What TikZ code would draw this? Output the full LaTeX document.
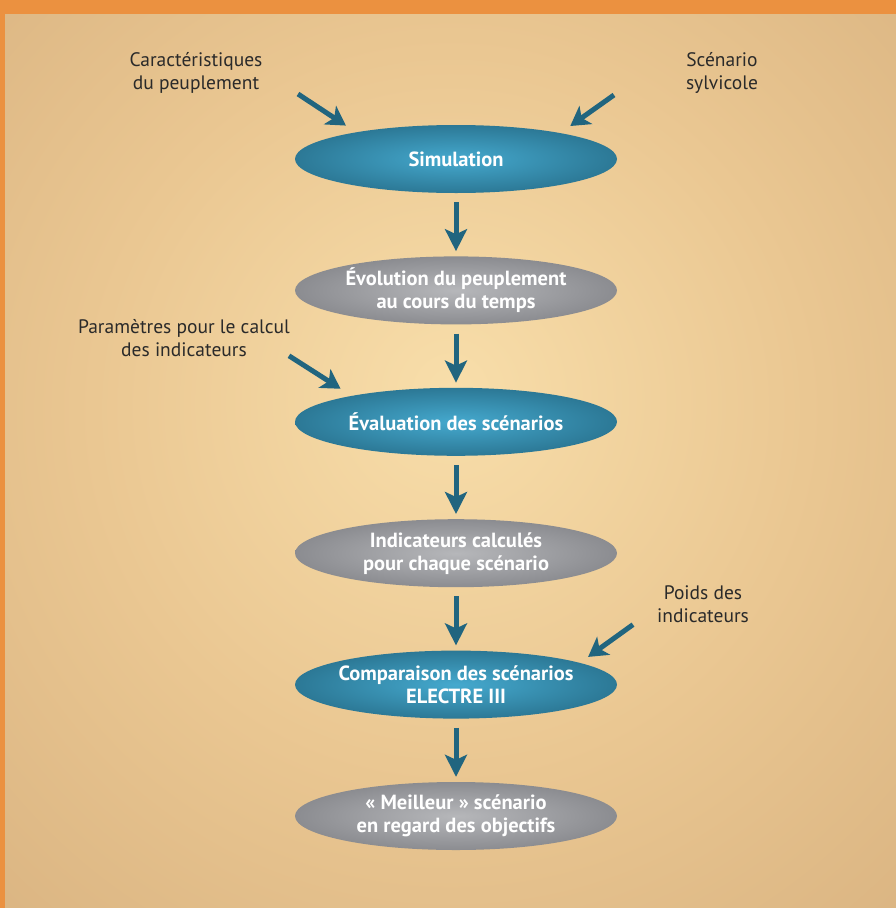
\documentclass[tikz,border=0pt]{standalone}
\usepackage{fontspec}
\setmainfont{PT Sans}
\definecolor{frameorange}{HTML}{EB9140}
\definecolor{bgin}{HTML}{F8DEAA}
\definecolor{bgmid}{HTML}{EAC792}
\definecolor{bgedge}{HTML}{D0A877}
\definecolor{bgout}{HTML}{C39768}
\definecolor{simin}{HTML}{45A9CE}
\definecolor{simout}{HTML}{21637D}
\definecolor{resin}{HTML}{B6B7BA}
\definecolor{resout}{HTML}{75767B}
\definecolor{arrowblue}{HTML}{21657F}
\definecolor{labink}{HTML}{2A2A2A}
\usetikzlibrary{positioning, arrows.meta, shapes.geometric}
\pgfdeclareradialshading{bgglow}{\pgfpoint{0bp}{4bp}}{color(0bp)=(bgin); color(20bp)=(bgmid); color(50bp)=(bgedge); color(71bp)=(bgout)}
\pgfdeclareradialshading{simglow}{\pgfpointorigin}{color(0bp)=(simin); color(36bp)=(simout); color(50bp)=(simout)}
\pgfdeclareradialshading{resglow}{\pgfpointorigin}{color(0bp)=(resin); color(38bp)=(resout); color(50bp)=(resout)}

\begin{document}
\begin{tikzpicture}[x=1pt, y=1pt, node distance=63pt,
    every node/.style={font=\fontsize{19.5}{23}\selectfont, text=labink, align=center},
    actell/.style={ellipse, shading=simglow, minimum width=322pt, minimum height=68pt,
      inner xsep=-14pt, inner ysep=0pt, text=white, font=\fontsize{20.5}{23}\selectfont\bfseries},
    resell/.style={actell, shading=resglow},
    flow/.style={-{Stealth[length=22pt, width=22pt, inset=5pt]}, line width=5pt, draw=arrowblue,
      shorten <=9pt, shorten >=5pt},
    feed/.style={-{Stealth[length=19pt, width=22pt, inset=5pt]}, line width=5pt, draw=arrowblue}]
  % frame and background
  \fill[frameorange] (0,0) rectangle (896,-908);
  \shade[shading=bgglow] (5,-14) rectangle (896,-908);

  % main chain
  \node[actell] (sim) at (456,-159) {Simulation};
  \node[resell, below=of sim] (evo) {Évolution du peuplement\\au cours du temps};
  \node[actell, below=of evo] (eva) {Évaluation des scénarios};
  \node[resell, below=of eva] (ind) {Indicateurs calculés\\pour chaque scénario};
  \node[actell, below=of ind] (com) {Comparaison des scénarios\\ELECTRE III};
  \node[resell, below=of com] (bes) {« Meilleur » scénario\\en regard des objectifs};

  % inputs
  \node (car) at (196,-73) {Caractéristiques\\du peuplement};
  \node (sce) at (722,-73) {Scénario\\sylvicole};
  \node (par) at (184,-338) {Paramètres pour le calcul\\des indicateurs};
  \node (poi) at (703,-604) {Poids des\\indicateurs};
  \coordinate (carT) at ([shift={(-158,65)}]sim.center);
  \coordinate (sceT) at ([shift={(158,64)}]sim.center);
  \coordinate (parT) at ([shift={(-167,66)}]eva.center);
  \coordinate (poiT) at ([shift={(177,60)}]com.center);

  \draw[flow] (sim) -- (evo);
  \draw[flow] (evo) -- (eva);
  \draw[flow] (eva) -- (ind);
  \draw[flow] (ind) -- (com);
  \draw[flow] (com) -- (bes);

  \draw[feed, shorten >=12pt] (carT) -- (sim.165.6);
  \draw[feed, shorten >=12pt] (sceT) -- (sim.14.4);
  \draw[feed, shorten >=13pt] (parT) -- (eva.166.8);
  \draw[feed, shorten >=10pt] (poiT) -- (com.10.2);
\end{tikzpicture}
\end{document}
